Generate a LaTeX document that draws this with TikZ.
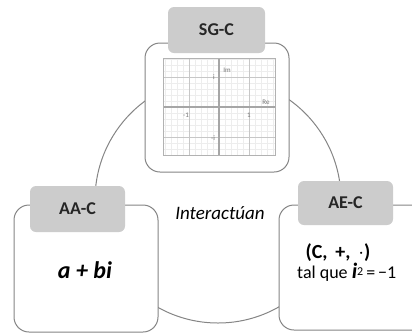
\documentclass[tikz,border=0pt]{standalone}
\usepackage{fontspec}
\setmainfont{Carlito}
\begin{document}
\begin{tikzpicture}[x=1pt,y=-1pt,
  box/.style={draw=black!48,line width=1pt,fill=white,rounded corners=15pt},
  tab/.style={fill=black!20,rounded corners=6pt},
  tabtext/.style={font=\fontsize{18}{21}\selectfont\bfseries,text=black!85},
  gridlbl/.style={font=\fontsize{7}{8}\selectfont,text=black!55,inner sep=0pt}]
\useasboundingbox (0,0) rectangle (412,333);
\clip (0,0) rectangle (412,333);
% connecting circle
\draw[black!48,line width=1pt] (218,200) circle (123);
% SG-C
\draw[box] (145,43) rectangle (289,172);
\fill[tab] (168,7) rectangle (265,53);
\node[tabtext] (sg) at (216.5,30) {SG-C};
% grid
\foreach \i in {-9,...,9} {
  \pgfmathsetmacro{\gx}{219+6*\i}
  \ifdim \gx pt>163pt \ifdim \gx pt<275pt
    \draw[black!7,line width=0.4pt] (\gx,58) -- (\gx,155);
  \fi\fi
  \pgfmathsetmacro{\gy}{107+6*\i}
  \ifdim \gy pt>58pt \ifdim \gy pt<155pt
    \draw[black!7,line width=0.4pt] (163,\gy) -- (275,\gy);
  \fi\fi
}
\foreach \x in {189,249} \draw[black!22,line width=0.8pt] (\x,58) -- (\x,155);
\foreach \y in {77,137} \draw[black!22,line width=0.8pt] (163,\y) -- (275,\y);
\draw[black!35,line width=1.3pt] (219,58) -- (219,155);
\draw[black!35,line width=1.3pt] (163,107) -- (275,107);
\draw[black!30,line width=0.9pt] (163,58) rectangle (275,155);
\node[gridlbl] (im) at (227,70) {Im};
\node[gridlbl] (ip) at (214,77) {i};
\node[gridlbl] (re) at (266,102) {Re};
\node[gridlbl] (m1) at (186,115) {-1};
\node[gridlbl] (p1) at (249,115) {1};
\node[gridlbl] (im1) at (213,138) {-i};
% AA-C
\draw[box] (14,205) rectangle (158,332);
\fill[tab] (30,186) rectangle (125,232);
\node[tabtext] (aa) at (77.5,209) {AA-C};
\node[font=\fontsize{24}{27}\selectfont\bfseries\itshape] (abi) at (85,270) {a + bi};
% AE-C
\draw[box] (279,205) rectangle (440,330);
\fill[tab] (298,181) rectangle (393,225);
\node[tabtext] (ae) at (345.5,203) {AE-C};
\node[font=\fontsize{20}{24}\selectfont\bfseries,anchor=base,inner sep=0pt] (cset) at (338,258) {(C,\, +,\, $\cdot$)};
\node[font=\fontsize{18}{21}\selectfont,anchor=base west,inner sep=0pt] (tal) at (297,278) {tal que \textbf{\textit{\fontsize{22}{24}\selectfont i}}\raisebox{3pt}{\fontsize{12}{14}\selectfont 2}\,=\,−1};
% label
\node[font=\fontsize{19}{22}\selectfont\itshape] (inter) at (220,213) {Interactúan};
\end{tikzpicture}
\end{document}
